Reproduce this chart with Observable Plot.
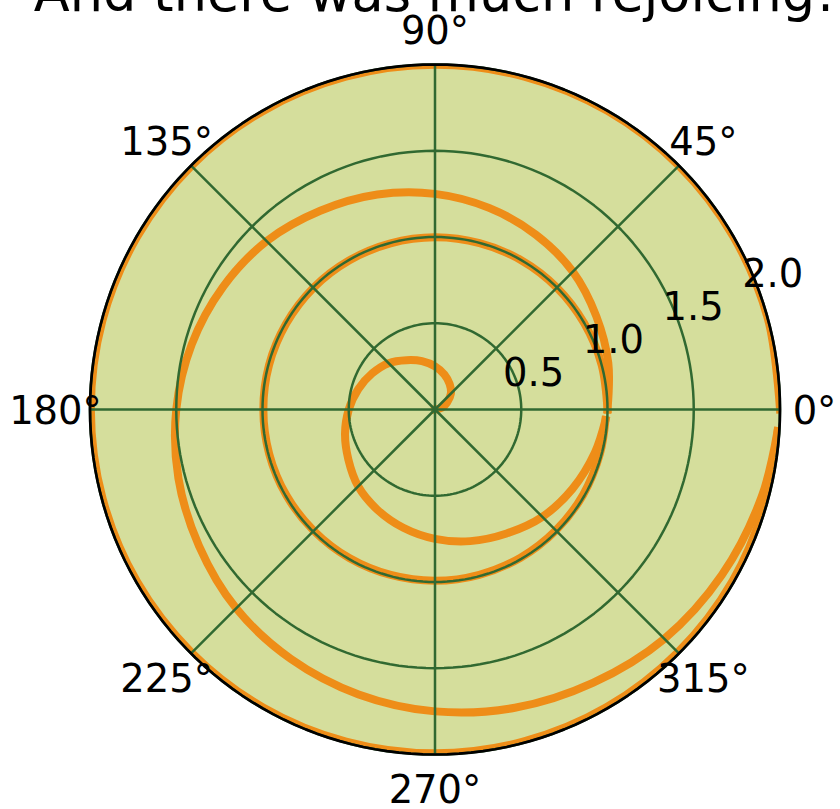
<!DOCTYPE html>
<html>
<head>
<meta charset="utf-8">
<script src="https://cdn.jsdelivr.net/npm/d3@7"></script>
<script src="https://cdn.jsdelivr.net/npm/@observablehq/plot@0.6"></script>
<style>
  html, body { margin: 0; padding: 0; background: #ffffff; }
  #chart { width: 840px; height: 809px; overflow: hidden; position: relative; }
</style>
</head>
<body>
<div id="chart"></div>
<script>
// ---- Data ----
const titleText = "And there was much rejoicing!";
const thetaTicks = [0, 45, 90, 135, 180, 225, 270, 315];
const thetaTickLabels = ["0°", "45°", "90°", "135°", "180°", "225°", "270°", "315°"];
const rTicks = [0.5, 1.0, 1.5, 2.0];
const rTickLabels = ["0.5", "1.0", "1.5", "2.0"];
const rMax = 2.0;
const rLabelAngle = 22.5;

// spiral, counter-clockwise turns (degrees)
const turnAngles = [0, 15, 30, 45, 60, 75, 90, 105, 120, 135, 150, 165, 180,
  195, 210, 225, 240, 255, 270, 285, 300, 315, 330, 345, 356.4];
const innerTurnR = [0.00, 0.04, 0.08, 0.13, 0.17, 0.21, 0.25, 0.29, 0.33, 0.38, 0.42, 0.46, 0.50,
  0.54, 0.58, 0.63, 0.67, 0.71, 0.75, 0.79, 0.83, 0.88, 0.92, 0.96, 0.99];
const outerTurnR = [1.00, 1.04, 1.08, 1.13, 1.17, 1.21, 1.25, 1.29, 1.33, 1.38, 1.42, 1.46, 1.50,
  1.54, 1.58, 1.63, 1.67, 1.71, 1.75, 1.79, 1.83, 1.88, 1.92, 1.96, 1.99];
// wrap-around rings (drawn clockwise back to 0°)
const wrapAngles = [356.4, 345, 330, 315, 300, 285, 270, 255, 240, 225, 210, 195, 180,
  165, 150, 135, 120, 105, 90, 75, 60, 45, 30, 15, 0];
const innerWrapR = [0.990, 0.990, 0.991, 0.991, 0.992, 0.992, 0.993, 0.993, 0.994, 0.994, 0.995, 0.995, 0.995,
  0.996, 0.996, 0.997, 0.997, 0.997, 0.998, 0.998, 0.999, 0.999, 0.999, 1.000, 1.000];
const outerWrapR = [1.990, 1.990, 1.991, 1.991, 1.992, 1.992, 1.993, 1.993, 1.994, 1.994, 1.995, 1.995, 1.995,
  1.996, 1.996, 1.997, 1.997, 1.997, 1.998, 1.998, 1.999, 1.999, 1.999, 2.000, 2.000];

// ---- Build tables ----
const rad = (d) => d * Math.PI / 180;
const px = (d) => d.r * Math.cos(rad(d.theta));
const py = (d) => d.r * Math.sin(rad(d.theta));

const spiral = [];
turnAngles.forEach((t, i) => spiral.push({seg: "turn1", theta: t, r: innerTurnR[i]}));
wrapAngles.forEach((t, i) => spiral.push({seg: "wrap1", theta: t, r: innerWrapR[i]}));
turnAngles.forEach((t, i) => spiral.push({seg: "turn2", theta: t, r: outerTurnR[i]}));
wrapAngles.forEach((t, i) => spiral.push({seg: "wrap2", theta: t, r: outerWrapR[i]}));

// circle geometry for grid / frame
const circleSteps = d3.range(0, 361, 2);
const gridCircles = rTicks.flatMap((r) => circleSteps.map((theta) => ({r, theta})));
const frameCircle = circleSteps.map((theta) => ({r: rMax, theta}));

const COLORS = {bg: "#d5de9c", grid: "#316931", line: "#ee8d18", spine: "#000000"};

const chart = Plot.plot({
  width: 840,
  height: 809,
  marginLeft: 89.5,
  marginRight: 60.5,
  marginTop: 64,
  marginBottom: 55,
  x: {domain: [-rMax, rMax], axis: null},
  y: {domain: [-rMax, rMax], axis: null},
  style: {fontFamily: "'DejaVu Sans', sans-serif", background: "#ffffff", overflow: "visible"},
  marks: [
    // axes background
    Plot.line(frameCircle, {x: px, y: py, fill: COLORS.bg, stroke: "none"}),
    // spiral
    Plot.line(spiral, {x: px, y: py, z: "seg", stroke: COLORS.line, strokeWidth: 8,
      curve: "catmull-rom", strokeLinecap: "square", strokeLinejoin: "round"}),
    // grid circles
    Plot.line(gridCircles, {x: px, y: py, z: "r", stroke: COLORS.grid, strokeWidth: 2.5}),
    // grid spokes
    Plot.link(thetaTicks, {
      x1: () => 0, y1: () => 0,
      x2: (t) => rMax * Math.cos(rad(t)), y2: (t) => rMax * Math.sin(rad(t)),
      stroke: COLORS.grid, strokeWidth: 2.5
    }),
    // polar spine
    Plot.line(frameCircle, {x: px, y: py, stroke: COLORS.spine, strokeWidth: 2.7, fill: "none"}),
    // angular tick labels
    Plot.text(thetaTicks, {
      x: (t) => 2.2 * Math.cos(rad(t)), y: (t) => 2.2 * Math.sin(rad(t)),
      text: (t, i) => thetaTickLabels[i],
      fontSize: 38.5, fill: "#000", textAnchor: "middle", lineAnchor: "middle", dy: 2
    }),
    // radial tick labels
    Plot.text(rTicks, {
      x: (r) => r * Math.cos(rad(rLabelAngle)), y: (r) => r * Math.sin(rad(rLabelAngle)),
      text: (r, i) => rTickLabels[i],
      fontSize: 38.5, fill: "#000", textAnchor: "middle", lineAnchor: "middle", dx: 19, dy: -3
    }),
    // title (partly above the top edge, as in the reference)
    Plot.text([titleText], {
      frameAnchor: "top", text: (d) => d, fontSize: 52.5, fill: "#000",
      textAnchor: "middle", lineAnchor: "middle", dy: -70
    })
  ]
});

// clip the spiral (second line mark) to the polar axes circle
(function clipSpiral() {
  const ns = "http://www.w3.org/2000/svg";
  const sx = chart.scale("x"), sy = chart.scale("y");
  const cx = sx.apply(0), cy = sy.apply(0), R = sx.apply(rMax) - sx.apply(0);
  const defs = document.createElementNS(ns, "defs");
  const cp = document.createElementNS(ns, "clipPath");
  cp.setAttribute("id", "polar-clip");
  const c = document.createElementNS(ns, "circle");
  c.setAttribute("cx", cx); c.setAttribute("cy", cy); c.setAttribute("r", R);
  cp.appendChild(c); defs.appendChild(cp); chart.appendChild(defs);
  const groups = chart.querySelectorAll("g[aria-label='line']");
  if (groups.length > 1) groups[1].setAttribute("clip-path", "url(#polar-clip)");
})();

document.getElementById("chart").appendChild(chart);
</script>
</body>
</html>
